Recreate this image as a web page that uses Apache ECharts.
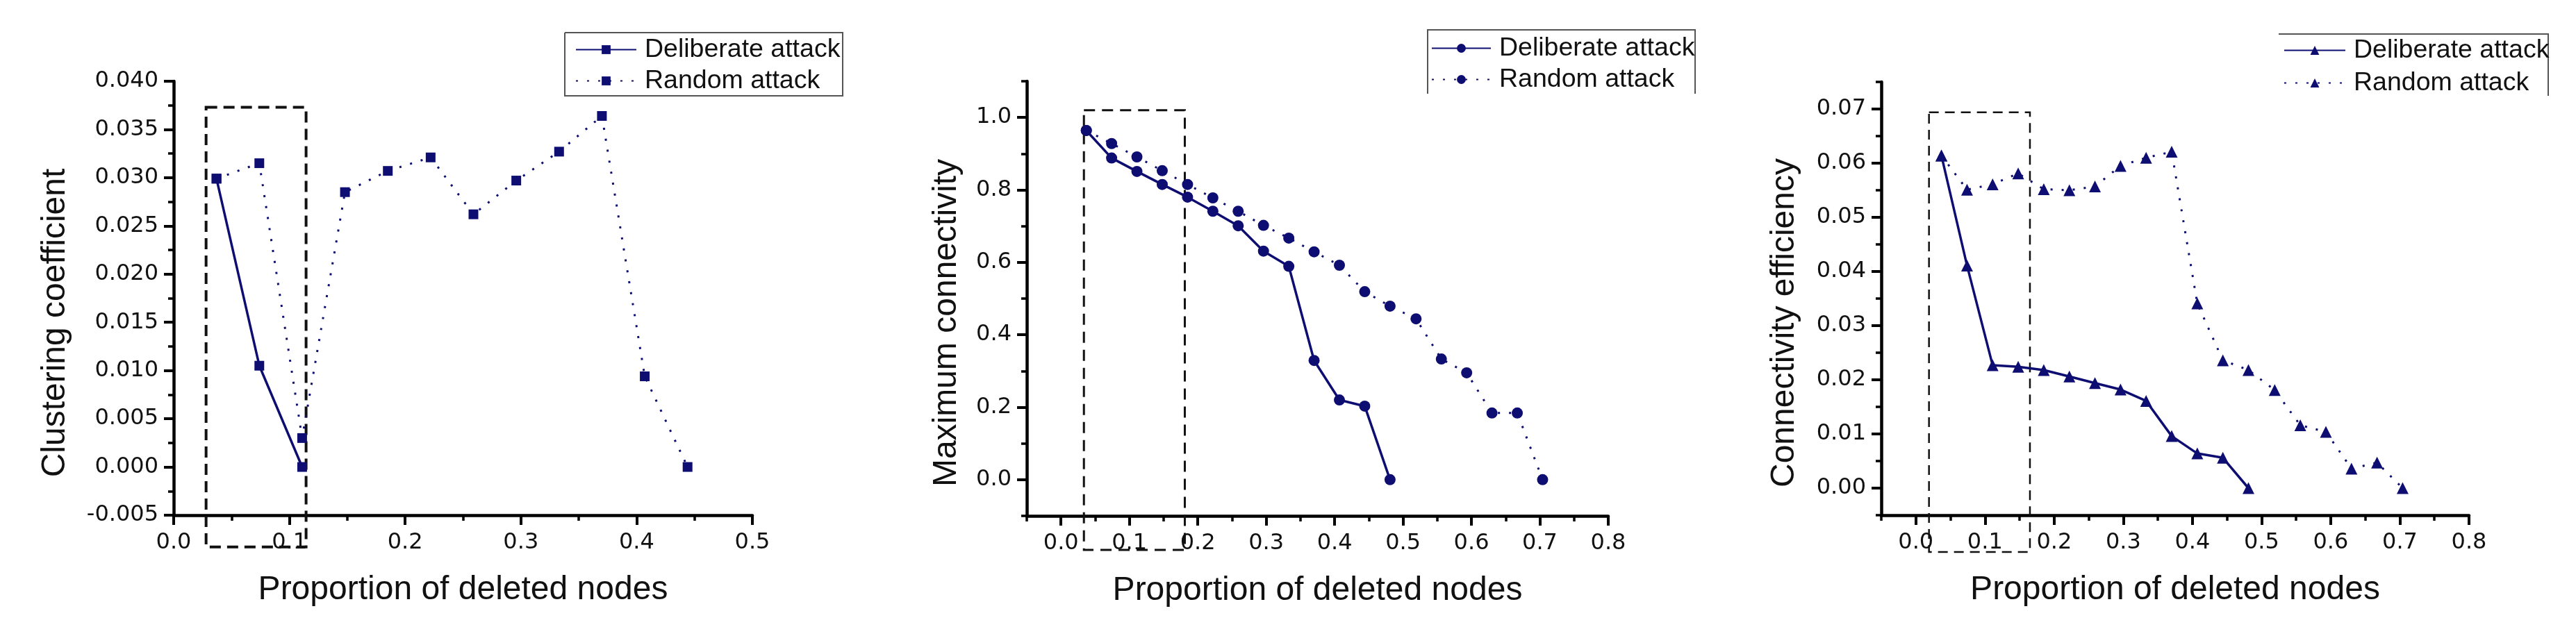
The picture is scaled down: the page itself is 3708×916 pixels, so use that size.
<!DOCTYPE html>
<html>
<head>
<meta charset="utf-8">
<script src="https://cdn.jsdelivr.net/npm/echarts@6/dist/echarts.min.js"></script>
<style>
html,body{margin:0;padding:0;background:#fff;}
#wrap{position:relative;width:3708px;height:916px;overflow:hidden;}
.panel{position:absolute;top:0;height:916px;}
</style>
</head>
<body>
<div id="wrap">
  <div id="c1" class="panel" style="left:0px;width:1240px;"></div>
  <div id="c2" class="panel" style="left:1240px;width:1240px;"></div>
  <div id="c3" class="panel" style="left:2480px;width:1228px;"></div>
</div>
<script>
// ---------------- data ----------------
const seriesNames = ['Deliberate attack', 'Random attack'];
const xTitle = 'Proportion of deleted nodes';

// Panel 1: clustering coefficient
const clusterDelibX = [0.037, 0.074, 0.111];
const clusterDelib = [0.0299, 0.0105, 0.0000];
const clusterRandomX = [0.037, 0.074, 0.111, 0.148, 0.185, 0.222, 0.259, 0.296, 0.333, 0.370, 0.407, 0.444];
const clusterRandom = [0.0299, 0.0315, 0.0030, 0.0285, 0.0307, 0.0321, 0.0262, 0.0297, 0.0327, 0.0364, 0.0094, 0.0000];
const clusterXTicks = [0.0, 0.1, 0.2, 0.3, 0.4, 0.5];
const clusterXMinor = [0.05, 0.15, 0.25, 0.35, 0.45];
const clusterYTicks = [-0.005, 0.000, 0.005, 0.010, 0.015, 0.020, 0.025, 0.030, 0.035, 0.040];
const clusterYMinor = [-0.0025, 0.0025, 0.0075, 0.0125, 0.0175, 0.0225, 0.0275, 0.0325, 0.0375];
const clusterBox = [0.028, -0.0083, 0.1144, 0.0373];

// Panel 2: maximum connectivity
const connDelibX = [0.037, 0.074, 0.111, 0.148, 0.185, 0.222, 0.259, 0.296, 0.333, 0.370, 0.407, 0.444, 0.481];
const connDelib = [0.964, 0.888, 0.851, 0.815, 0.780, 0.741, 0.701, 0.631, 0.589, 0.329, 0.220, 0.203, 0.000];
const connRandomX = [0.037, 0.074, 0.111, 0.148, 0.185, 0.222, 0.259, 0.296, 0.333, 0.370, 0.407, 0.444, 0.481, 0.519, 0.556, 0.593, 0.630, 0.667, 0.704];
const connRandom = [0.964, 0.928, 0.891, 0.853, 0.815, 0.778, 0.741, 0.702, 0.667, 0.629, 0.592, 0.519, 0.479, 0.444, 0.333, 0.295, 0.184, 0.184, 0.000];
const connXTicks = [0.0, 0.1, 0.2, 0.3, 0.4, 0.5, 0.6, 0.7, 0.8];
const connXMinor = [-0.05, 0.05, 0.15, 0.25, 0.35, 0.45, 0.55, 0.65, 0.75];
const connYTicks = [0.0, 0.2, 0.4, 0.6, 0.8, 1.0];
const connYMinor = [-0.1, 0.1, 0.3, 0.5, 0.7, 0.9, 1.1];
const connBox = [0.0335, -0.194, 0.181, 1.02];

// Panel 3: connectivity efficiency
const effDelibX = [0.037, 0.074, 0.111, 0.148, 0.185, 0.222, 0.259, 0.296, 0.333, 0.370, 0.407, 0.444, 0.481];
const effDelib = [0.0614, 0.0411, 0.0227, 0.0224, 0.0218, 0.0206, 0.0194, 0.0182, 0.0161, 0.0096, 0.0064, 0.0056, 0.0000];
const effRandomX = [0.037, 0.074, 0.111, 0.148, 0.185, 0.222, 0.259, 0.296, 0.333, 0.370, 0.407, 0.444, 0.481, 0.519, 0.556, 0.593, 0.630, 0.667, 0.704];
const effRandom = [0.0614, 0.0551, 0.0561, 0.0581, 0.0552, 0.0550, 0.0557, 0.0595, 0.0610, 0.0621, 0.0341, 0.0236, 0.0218, 0.0181, 0.0116, 0.0104, 0.0036, 0.0047, 0.0000];
const effXTicks = [0.0, 0.1, 0.2, 0.3, 0.4, 0.5, 0.6, 0.7, 0.8];
const effXMinor = [-0.05, 0.05, 0.15, 0.25, 0.35, 0.45, 0.55, 0.65, 0.75];
const effYTicks = [0.00, 0.01, 0.02, 0.03, 0.04, 0.05, 0.06, 0.07];
const effYMinor = [-0.005, 0.005, 0.015, 0.025, 0.035, 0.045, 0.055, 0.065, 0.075];
const effBox = [0.019, -0.0118, 0.165, 0.0694];

// ---------------- styling ----------------
const NAVY = '#0e0e72';
const INK = '#111111';
const TICK_FONT = 'DejaVu Sans';
const TEXT_FONT = 'Liberation Sans';

function zip(xs, ys) { return xs.map((x, i) => [x, ys[i]]); }

function buildOption(cfg) {
  const xMajor = {
    type: 'value', gridIndex: 0, min: cfg.xMin, max: cfg.xMax, position: 'bottom',
    axisLine: { show: true, onZero: false, lineStyle: { color: '#000', width: 4.5 } },
    axisTick: { show: true, customValues: cfg.xTicks, length: 14, lineStyle: { color: '#000', width: 4 } },
    axisLabel: { customValues: cfg.xTicks, formatter: v => Number(v).toFixed(1), margin: 24,
      fontFamily: TICK_FONT, fontSize: 32, color: INK },
    splitLine: { show: false }
  };
  const xMinor = {
    type: 'value', gridIndex: 0, min: cfg.xMin, max: cfg.xMax, position: 'bottom',
    axisLine: { show: false, onZero: false },
    axisTick: { show: true, customValues: cfg.xMinor, length: 8, lineStyle: { color: '#000', width: 3.5 } },
    axisLabel: { show: false }, splitLine: { show: false }
  };
  const yMajor = {
    type: 'value', gridIndex: 0, min: cfg.yMin, max: cfg.yMax, position: 'left',
    axisLine: { show: true, onZero: false, lineStyle: { color: '#000', width: 4.5 } },
    axisTick: { show: true, customValues: cfg.yTicks, length: 14, lineStyle: { color: '#000', width: 4 } },
    axisLabel: { customValues: cfg.yTicks, formatter: v => Number(v).toFixed(cfg.yDec), margin: 22,
      fontFamily: TICK_FONT, fontSize: 32, color: INK },
    splitLine: { show: false }
  };
  const yMinor = {
    type: 'value', gridIndex: 0, min: cfg.yMin, max: cfg.yMax, position: 'left',
    axisLine: { show: false, onZero: false },
    axisTick: { show: true, customValues: cfg.yMinor, length: 8, lineStyle: { color: '#000', width: 3.5 } },
    axisLabel: { show: false }, splitLine: { show: false }
  };
  const box = cfg.box;
  return {
    animation: false,
    backgroundColor: '#ffffff',
    grid: { left: cfg.grid[0], top: cfg.grid[1], width: cfg.grid[2], height: cfg.grid[3], containLabel: false },
    xAxis: [xMajor, xMinor],
    yAxis: [yMajor, yMinor],
    legend: {
      orient: 'vertical', left: cfg.legend.left, top: cfg.legend.top, padding: 0,
      itemWidth: cfg.legend.itemWidth, itemHeight: 16, itemGap: cfg.legend.gap,
      selectedMode: false, data: seriesNames,
      textStyle: { fontFamily: TEXT_FONT, fontSize: 37.5, color: INK, lineHeight: 41, padding: [0, 0, 0, 7] }
    },
    graphic: [
      { type: 'text', x: cfg.yTitle.x, y: cfg.yTitle.y, rotation: Math.PI / 2,
        style: { text: cfg.yTitle.text, fontFamily: TEXT_FONT, fontSize: 48, fill: INK,
          textAlign: 'center', textVerticalAlign: 'middle' } },
      { type: 'polyline', shape: { points: cfg.legendBorder }, silent: true,
        style: { fill: null, stroke: '#555', lineWidth: 2 } }
    ],
    series: [
      { name: seriesNames[0], type: 'line', xAxisIndex: 0, yAxisIndex: 0,
        data: zip(cfg.delibX, cfg.delib), symbol: cfg.symbol, symbolSize: cfg.symbolSize,
        lineStyle: { color: NAVY, width: 3.5, type: 'solid' }, itemStyle: { color: NAVY }, z: 3 },
      { name: seriesNames[1], type: 'line', xAxisIndex: 0, yAxisIndex: 0,
        data: zip(cfg.randX, cfg.rand), symbol: cfg.symbol, symbolSize: cfg.symbolSize,
        lineStyle: { color: NAVY, width: 3, type: [3, 13] }, itemStyle: { color: NAVY }, z: 3 },
      { type: 'custom', xAxisIndex: 0, yAxisIndex: 0, clip: false, silent: true, z: 2,
        data: [box], encode: { x: [0, 2], y: [1, 3] },
        renderItem: function (params, api) {
          const p0 = api.coord([api.value(0), api.value(3)]);
          const p1 = api.coord([api.value(2), api.value(1)]);
          return { type: 'rect',
            shape: { x: p0[0], y: p0[1], width: p1[0] - p0[0], height: p1[1] - p0[1] },
            style: { fill: null, stroke: '#111', lineWidth: cfg.boxWidth, lineDash: cfg.boxDash } };
        } }
    ]
  };
}

const cfg1 = {
  xMin: 0, xMax: 0.5, xTicks: clusterXTicks, xMinor: clusterXMinor,
  yMin: -0.005, yMax: 0.040, yTicks: clusterYTicks, yMinor: clusterYMinor, yDec: 3,
  grid: [250, 117, 833, 625], box: clusterBox, boxWidth: 4, boxDash: [16, 9],
  delibX: clusterDelibX, delib: clusterDelib, randX: clusterRandomX, rand: clusterRandom,
  symbol: 'rect', symbolSize: 14,
  legend: { left: 828, top: 51, itemWidth: 87, gap: 4 },
  legendBorder: [[813, 47], [1213, 47], [1213, 138], [813, 138], [813, 47]],
  yTitle: { x: 80, y: 465, text: 'Clustering coefficient' }
};
const cfg2 = {
  xMin: -0.05, xMax: 0.8, xTicks: connXTicks, xMinor: connXMinor,
  yMin: -0.1, yMax: 1.1, yTicks: connYTicks, yMinor: connYMinor, yDec: 1,
  grid: [238, 117, 837, 626], box: connBox, boxWidth: 3, boxDash: [16, 10],
  delibX: connDelibX, delib: connDelib, randX: connRandomX, rand: connRandom,
  symbol: 'circle', symbolSize: 16,
  legend: { left: 820, top: 49, itemWidth: 85, gap: 4 },
  legendBorder: [[815, 135], [815, 43], [1200, 43], [1200, 135]],
  yTitle: { x: 123, y: 465, text: 'Maximum connectivity' }
};
const cfg3 = {
  xMin: -0.05, xMax: 0.8, xTicks: effXTicks, xMinor: effXMinor,
  yMin: -0.005, yMax: 0.075, yTicks: effYTicks, yMinor: effYMinor, yDec: 2,
  grid: [228, 118, 846, 624], box: effBox, boxWidth: 2.5, boxDash: [14, 9],
  delibX: effDelibX, delib: effDelib, randX: effRandomX, rand: effRandom,
  symbol: 'triangle', symbolSize: 17,
  legend: { left: 807, top: 52, itemWidth: 88, gap: 6 },
  legendBorder: [[800, 49], [1188, 49], [1188, 138]],
  yTitle: { x: 89, y: 465, text: 'Connectivity efficiency' }
};

[['c1', cfg1], ['c2', cfg2], ['c3', cfg3]].forEach(([id, cfg]) => {
  const chart = echarts.init(document.getElementById(id), null, { renderer: 'canvas' });
  const opt = buildOption(cfg);
  opt.xAxis[0].name = xTitle;
  opt.xAxis[0].nameLocation = 'middle';
  opt.xAxis[0].nameGap = 84;
  opt.xAxis[0].nameTextStyle = { fontFamily: TEXT_FONT, fontSize: 48, color: INK };
  chart.setOption(opt);
});
</script>
</body>
</html>
